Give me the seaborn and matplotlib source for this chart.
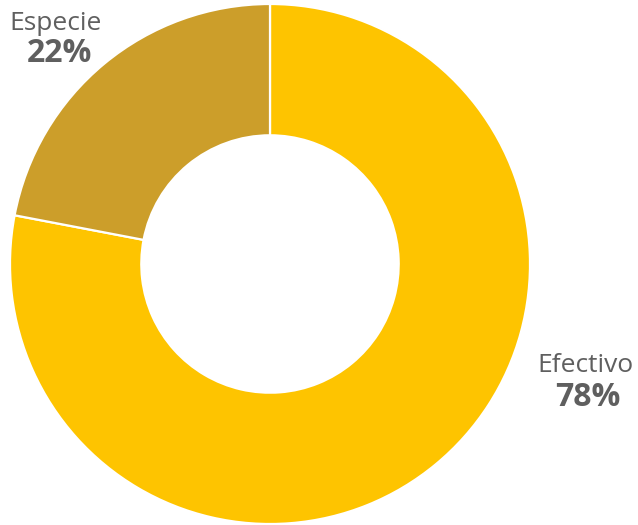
import matplotlib
matplotlib.use("Agg")
import matplotlib.pyplot as plt
import seaborn as sns

# data
categories = ["Efectivo", "Especie"]
shares = [78, 22]
colors = ["#FEC400", "#CC9E2A"]

sns.set_theme(style="white")
plt.rcParams['font.family'] = ['Open Sans', 'DejaVu Sans']

W, H = 638, 525
fig = plt.figure(figsize=(W / 100, H / 100), dpi=100)
# axes box around the donut (pixel coords)
cx, cy, r = 270, 264, 260
ax = fig.add_axes([(cx - r) / W, (H - cy - r) / H, 2 * r / W, 2 * r / H])

ax.pie(shares, colors=colors, startangle=90, counterclock=False,
       radius=1, wedgeprops=dict(width=0.505, edgecolor="white", linewidth=1.6))
ax.set_xlim(-1, 1)
ax.set_ylim(-1, 1)
ax.set_aspect("equal")
ax.axis("off")

gray = "#5F5F5F"
# label positions in pixels (name, pct)
label_pos = {"Especie": (56, 23, 60, 54), "Efectivo": (585, 365, 588, 397)}
for cat, val in zip(categories, shares):
    x1, y1, x2, y2 = label_pos[cat]
    fig.text(x1 / W, 1 - y1 / H, cat, ha="center", va="center",
             fontsize=19, color=gray)
    fig.text(x2 / W, 1 - y2 / H, f"{val}%", ha="center", va="center",
             fontsize=23, fontweight="bold", color=gray)

fig.savefig("out.png", dpi=100)
